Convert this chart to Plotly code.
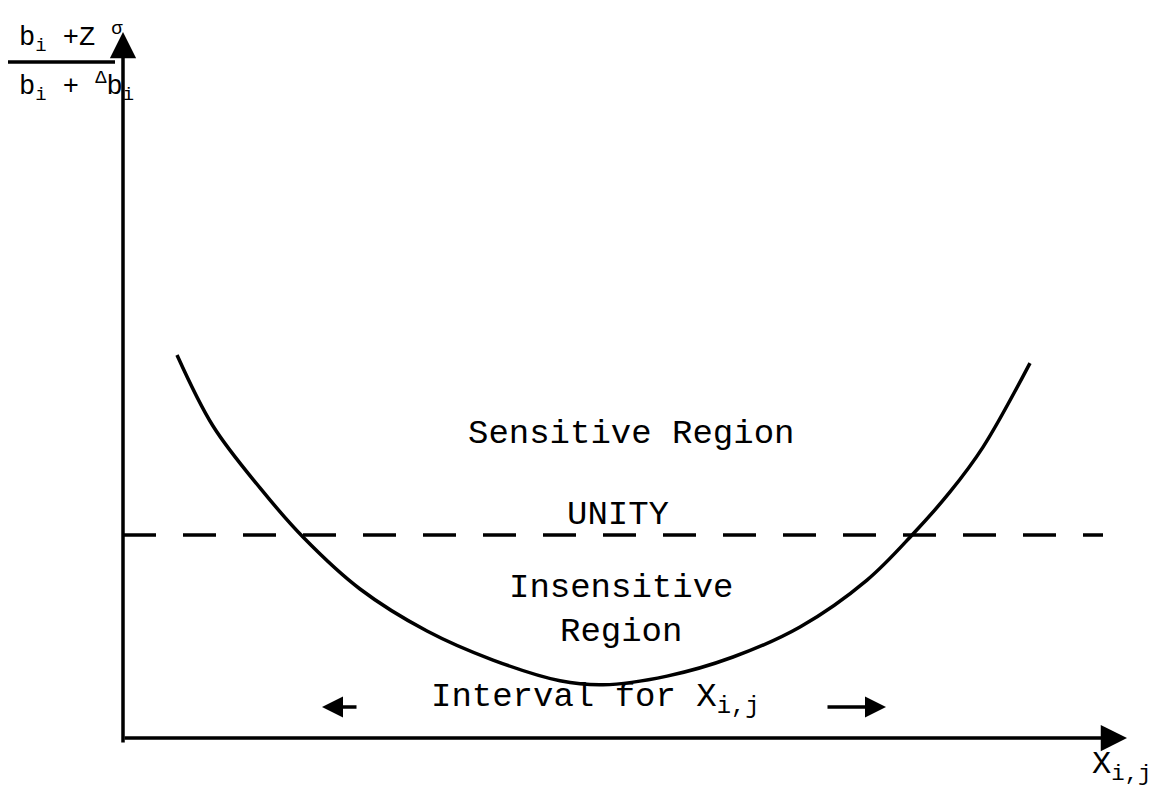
import plotly.graph_objects as go

# ---- data (diagram units: unity ratio = 1.0) ----
curve_x = [0.54, 0.90, 1.37, 1.80, 2.37, 3.04, 3.70, 4.37, 4.80, 5.44, 6.10, 6.77, 7.44, 7.90, 8.27, 8.60, 9.07]
curve_y = [1.887, 1.537, 1.232, 0.990, 0.734, 0.527, 0.384, 0.282, 0.262, 0.305, 0.399, 0.547, 0.778, 1.005, 1.212, 1.433, 1.847]
unity_value = 1.0
unity_x = [0.0, 9.80]
x_axis_end = 10.04
y_axis_end = 3.478
interval_left = [2.35, 1.99]    # arrow from -> to
interval_right = [7.03, 7.63]   # arrow from -> to
interval_y = 0.153

labels = {
    "sensitive": "Sensitive Region",
    "unity": "UNITY",
    "insensitive": "Insensitive<br>Region",
    "interval": "Interval for X<sub>i,j</sub>",
    "xlabel": "X<sub>i,j</sub>",
    "ynum": "b<sub>i</sub> +Z <sup>σ</sup>",
    "yden": "b<sub>i</sub> + <sup>Δ</sup>b<sub>i</sub>",
}

FONT = "Liberation Mono"
INK = "black"
LW = 3.5

fig = go.Figure()

fig.add_trace(go.Scatter(
    x=curve_x, y=curve_y, mode="lines",
    line=dict(color=INK, width=LW, shape="spline", smoothing=1.0),
    hoverinfo="skip", showlegend=False))

fig.add_trace(go.Scatter(
    x=unity_x, y=[unity_value, unity_value], mode="lines",
    line=dict(color=INK, width=LW, dash="33px,27px"),
    hoverinfo="skip", showlegend=False))

ann = []
def arrow(x0, y0, x1, y1, size=1.4, head=2):
    ann.append(dict(x=x1, y=y1, ax=x0, ay=y0, xref="x", yref="y", axref="x", ayref="y",
                    text="", showarrow=True, arrowhead=head, arrowsize=size,
                    arrowwidth=LW, arrowcolor=INK, standoff=0, startstandoff=0))

# axes with arrowheads
arrow(0, -0.03, 0, y_axis_end, size=1.5)
arrow(0, 0, x_axis_end, 0, size=1.5)
# interval arrows
arrow(interval_left[0], interval_y, interval_left[1], interval_y, size=1.2)
arrow(interval_right[0], interval_y, interval_right[1], interval_y, size=1.2)

def text(t, x, y, size=34, xanchor="center", yanchor="middle", align="center"):
    ann.append(dict(x=x, y=y, xref="x", yref="y", text=t, showarrow=False,
                    xanchor=xanchor, yanchor=yanchor, align=align,
                    font=dict(family=FONT, size=size, color=INK)))

text(labels["sensitive"], 5.08, 1.50)
text(labels["unity"], 4.95, 1.10)
text(labels["insensitive"], 4.98, 0.63)
text(labels["interval"], 3.06, 0.19, xanchor="left")
text(labels["xlabel"], 9.67, -0.03, size=32, xanchor="left", yanchor="top")
text(labels["ynum"], -1.06, 3.345, size=27, xanchor="left", yanchor="bottom")
text(labels["yden"], -1.06, 3.315, size=27, xanchor="left", yanchor="top")

shapes = [dict(type="line", xref="x", yref="y", x0=-1.15, x1=-0.08, y0=3.33, y1=3.33,
               line=dict(color=INK, width=LW))]

# body of the page has an 8px margin: shift the data window so marks land where intended
fig.update_layout(
    width=1173, height=791,
    margin=dict(l=0, r=0, t=0, b=0),
    paper_bgcolor="white", plot_bgcolor="white",
    xaxis=dict(range=[-1.15, 10.58], visible=False, fixedrange=True),
    yaxis=dict(range=[-0.3005, 3.5961], visible=False, fixedrange=True),
    annotations=ann, shapes=shapes, showlegend=False)

fig.write_html("out.html")
